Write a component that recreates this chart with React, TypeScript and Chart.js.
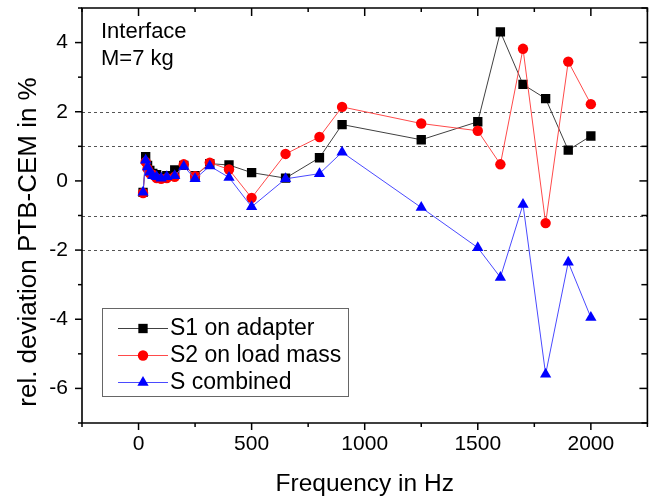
import React, { useEffect, useRef } from "react";
import { Chart, registerables } from "chart.js";

Chart.register(...registerables);

// Data
const frequencies = [20, 31.5, 40, 50, 63, 80, 100, 125, 160, 200, 250, 315, 400, 500, 650, 800, 900, 1250, 1500, 1600, 1700, 1800, 1900, 2000];
const s1Adapter = [-0.33, 0.70, 0.45, 0.30, 0.22, 0.18, 0.10, 0.15, 0.32, 0.45, 0.15, 0.50, 0.46, 0.24, 0.08, 0.67, 1.63, 1.19, 1.71, 4.31, 2.79, 2.38, 0.89, 1.30];
const s2LoadMass = [-0.35, 0.55, 0.35, 0.22, 0.18, 0.08, 0.06, 0.08, 0.12, 0.48, 0.14, 0.53, 0.33, -0.49, 0.78, 1.27, 2.14, 1.66, 1.45, 0.48, 3.82, -1.22, 3.45, 2.22];
const sCombined = [-0.33, 0.60, 0.40, 0.25, 0.15, 0.12, 0.08, 0.12, 0.15, 0.42, 0.06, 0.43, 0.10, -0.75, 0.06, 0.21, 0.83, -0.77, -1.93, -2.79, -0.68, -5.59, -2.35, -3.95];

const seriesNames = ["S1 on adapter", "S2 on load mass", "S combined"];
const xTickValues = [0, 500, 1000, 1500, 2000];
const xMinorTickValues = [-250, 250, 750, 1250, 1750, 2250];
const yTickValues = [-6, -4, -2, 0, 2, 4];
const yMinorTickValues = [-7, -5, -3, -1, 1, 3, 5];
const dashedLevels = [2, 1, -1, -2];
const annotationLines = ["Interface", "M=7 kg"];
const xTitle = "Frequency in Hz";
const yTitle = "rel. deviation PTB-CEM in %";

const FONT = "'Liberation Sans', Arial, sans-serif";

type Style = { line: string; fill: string; shape: "rect" | "circle" | "triangle"; radius: number };
const styles: Style[] = [
  { line: "#404040", fill: "#000000", shape: "rect", radius: 6.6 },
  { line: "#ff4a4a", fill: "#ff0000", shape: "circle", radius: 5.2 },
  { line: "#4a4aff", fill: "#0000ff", shape: "triangle", radius: 6.5 },
];

function drawMarker(ctx: CanvasRenderingContext2D, s: Style, x: number, y: number) {
  ctx.beginPath();
  if (s.shape === "rect") {
    const h = Math.SQRT1_2 * s.radius;
    ctx.rect(x - h, y - h, 2 * h, 2 * h);
  } else if (s.shape === "circle") {
    ctx.arc(x, y, s.radius, 0, Math.PI * 2);
  } else {
    let a = 0;
    ctx.moveTo(x + Math.sin(a) * s.radius, y - Math.cos(a) * s.radius);
    a += (2 * Math.PI) / 3;
    ctx.lineTo(x + Math.sin(a) * s.radius, y - Math.cos(a) * s.radius);
    a += (2 * Math.PI) / 3;
    ctx.lineTo(x + Math.sin(a) * s.radius, y - Math.cos(a) * s.radius);
    ctx.closePath();
  }
  ctx.fillStyle = s.fill;
  ctx.fill();
}

const decorPlugin = {
  id: "decor",
  beforeDatasetsDraw(chart: any) {
    const { ctx, chartArea, scales } = chart;
    const { left, right } = chartArea;
    ctx.save();
    ctx.strokeStyle = "#555555";
    ctx.lineWidth = 1;
    ctx.setLineDash([3, 3]);
    dashedLevels.forEach((v) => {
      const py = Math.round(scales.y.getPixelForValue(v)) + 0.5;
      ctx.beginPath();
      ctx.moveTo(left, py);
      ctx.lineTo(right, py);
      ctx.stroke();
    });
    ctx.restore();
  },
  afterDraw(chart: any) {
    const { ctx, chartArea, scales } = chart;
    const { left, right, top, bottom } = chartArea;
    const x = scales.x;
    const y = scales.y;
    ctx.save();
    ctx.strokeStyle = "#000";
    ctx.lineWidth = 1.6;
    ctx.setLineDash([]);
    ctx.beginPath();
    ctx.moveTo(left, top);
    ctx.lineTo(right, top);
    ctx.lineTo(right, bottom);
    ctx.lineTo(left, bottom);
    ctx.closePath();
    ctx.stroke();

    ctx.lineWidth = 1.5;
    const tick = (x1: number, y1: number, x2: number, y2: number) => {
      ctx.beginPath();
      ctx.moveTo(x1, y1);
      ctx.lineTo(x2, y2);
      ctx.stroke();
    };
    // x ticks: bottom outward, top inward
    xTickValues.forEach((v) => {
      const px = x.getPixelForValue(v);
      tick(px, bottom, px, bottom + 7);
      tick(px, top, px, top + 8);
    });
    xMinorTickValues.forEach((v) => {
      const px = x.getPixelForValue(v);
      tick(px, bottom, px, bottom + 4);
      tick(px, top, px, top + 4);
    });
    // y ticks: left outward, right inward
    yTickValues.forEach((v) => {
      const py = y.getPixelForValue(v);
      tick(left, py, left - 7, py);
      tick(right, py, right - 8, py);
    });
    yMinorTickValues.forEach((v) => {
      const py = y.getPixelForValue(v);
      tick(left, py, left - 4, py);
      tick(right, py, right - 6, py);
    });

    // Annotation
    ctx.fillStyle = "#000";
    ctx.font = `22px ${FONT}`;
    ctx.textAlign = "left";
    ctx.textBaseline = "alphabetic";
    annotationLines.forEach((t, i) => ctx.fillText(t, 101, 38 + i * 27));

    // Legend
    const bx = 102, by = 308, bw = 246, bh = 88;
    ctx.fillStyle = "#fff";
    ctx.fillRect(bx, by, bw, bh);
    ctx.strokeStyle = "#666";
    ctx.lineWidth = 1;
    ctx.strokeRect(bx + 0.5, by + 0.5, bw, bh);
    seriesNames.forEach((name, i) => {
      const ry = 328 + i * 27;
      const s = styles[i];
      ctx.strokeStyle = s.line;
      ctx.lineWidth = 1;
      ctx.beginPath();
      ctx.moveTo(118, Math.round(ry) + 0.5);
      ctx.lineTo(168, Math.round(ry) + 0.5);
      ctx.stroke();
      drawMarker(ctx, s, 143, ry + 0.5);
      ctx.fillStyle = "#000";
      ctx.font = `23px ${FONT}`;
      ctx.textBaseline = "middle";
      ctx.textAlign = "left";
      ctx.fillText(name, 170, ry + 1);
    });

    // Axis titles
    ctx.fillStyle = "#000";
    ctx.font = `24.5px ${FONT}`;
    ctx.textAlign = "center";
    ctx.textBaseline = "middle";
    ctx.fillText(xTitle, (left + right) / 2, 484);
    ctx.save();
    ctx.translate(29, 242);
    ctx.rotate(-Math.PI / 2);
    ctx.font = `26px ${FONT}`;
    ctx.fillText(yTitle, 0, 0);
    ctx.restore();

    ctx.restore();
  },
};

export default function App() {
  const canvasRef = useRef<HTMLCanvasElement | null>(null);

  useEffect(() => {
    if (!canvasRef.current) return;
    const seriesValues = [s1Adapter, s2LoadMass, sCombined];
    const datasets = seriesValues.map((vals, i) => ({
      label: seriesNames[i],
      data: frequencies.map((f, j) => ({ x: f, y: vals[j] })),
      showLine: true,
      borderColor: styles[i].line,
      borderWidth: 1,
      backgroundColor: styles[i].fill,
      pointBackgroundColor: styles[i].fill,
      pointBorderColor: styles[i].fill,
      pointBorderWidth: 0,
      pointStyle: styles[i].shape,
      pointRadius: styles[i].radius,
      pointHoverRadius: styles[i].radius,
      order: 3 - i,
      tension: 0,
    }));

    const chart = new Chart(canvasRef.current, {
      type: "scatter",
      data: { datasets },
      plugins: [decorPlugin],
      options: {
        animation: false,
        responsive: false,
        devicePixelRatio: 1,
        layout: { padding: { top: 8, right: 6, left: 0, bottom: 0 } },
        plugins: { legend: { display: false }, tooltip: { enabled: false } },
        scales: {
          x: {
            type: "linear",
            min: -250,
            max: 2250,
            afterBuildTicks: (s: any) => {
              s.ticks = xTickValues.map((v) => ({ value: v }));
            },
            afterFit: (s: any) => {
              s.height = 78;
              s.paddingLeft = 0;
              s.paddingRight = 0;
            },
            grid: { display: false, drawTicks: false },
            border: { display: false },
            ticks: {
              color: "#000",
              font: { family: FONT, size: 21 },
              padding: 9,
              maxRotation: 0,
              autoSkip: false,
              callback: (v: any) => String(v),
            },
          },
          y: {
            type: "linear",
            min: -7,
            max: 5,
            afterBuildTicks: (s: any) => {
              s.ticks = yTickValues.map((v) => ({ value: v }));
            },
            afterFit: (s: any) => {
              s.width = 82;
              s.paddingTop = 0;
              s.paddingBottom = 0;
            },
            grid: { display: false, drawTicks: false },
            border: { display: false },
            ticks: {
              color: "#000",
              font: { family: FONT, size: 21 },
              padding: 14,
              autoSkip: false,
              callback: (v: any) => String(v),
            },
          },
        },
      },
    } as any);
    return () => chart.destroy();
  }, []);

  return (
    <div style={{ position: "absolute", left: 0, top: 0, width: 654, height: 501, background: "#fff" }}>
      <canvas ref={canvasRef} width={654} height={501} style={{ display: "block" }} />
    </div>
  );
}
